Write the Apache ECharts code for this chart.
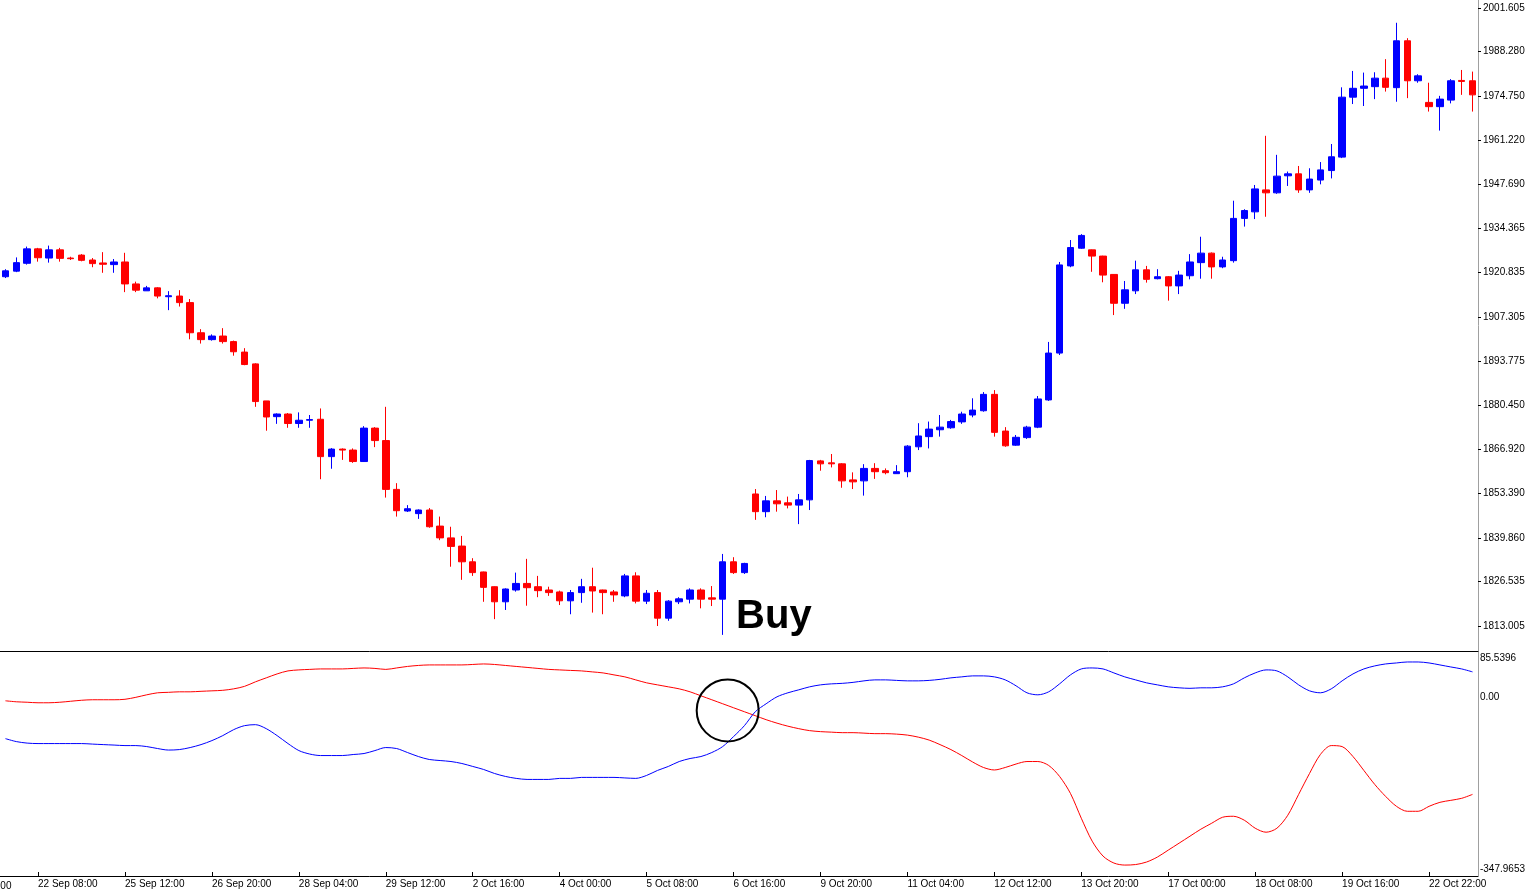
<!DOCTYPE html>
<html>
<head>
<meta charset="utf-8">
<title>XAUUSD H4</title>
<script src="https://cdn.jsdelivr.net/npm/echarts@6/dist/echarts.min.js"></script>
<style>
html, body { margin: 0; padding: 0; background: #fff; }
#chart { width: 1528px; height: 889px; }
</style>
</head>
<body>
<div id="chart"></div>
<script>
// H4 candle times
var times = [
    '21 Sep 20:00', '22 Sep 00:00', '22 Sep 04:00', '22 Sep 08:00', '22 Sep 12:00', '22 Sep 16:00', '22 Sep 20:00',
    '24 Sep 22:00', '25 Sep 00:00', '25 Sep 04:00', '25 Sep 08:00', '25 Sep 12:00', '25 Sep 16:00', '25 Sep 20:00',
    '26 Sep 00:00', '26 Sep 04:00', '26 Sep 08:00', '26 Sep 12:00', '26 Sep 16:00', '26 Sep 20:00',
    '27 Sep 00:00', '27 Sep 04:00', '27 Sep 08:00', '27 Sep 12:00', '27 Sep 16:00', '27 Sep 20:00',
    '28 Sep 00:00', '28 Sep 04:00', '28 Sep 08:00', '28 Sep 12:00', '28 Sep 16:00', '28 Sep 20:00',
    '29 Sep 00:00', '29 Sep 04:00', '29 Sep 08:00', '29 Sep 12:00', '29 Sep 16:00', '29 Sep 20:00',
    '1 Oct 22:00', '2 Oct 00:00', '2 Oct 04:00', '2 Oct 08:00', '2 Oct 12:00', '2 Oct 16:00', '2 Oct 20:00',
    '3 Oct 00:00', '3 Oct 04:00', '3 Oct 08:00', '3 Oct 12:00', '3 Oct 16:00', '3 Oct 20:00',
    '4 Oct 00:00', '4 Oct 04:00', '4 Oct 08:00', '4 Oct 12:00', '4 Oct 16:00', '4 Oct 20:00',
    '5 Oct 00:00', '5 Oct 04:00', '5 Oct 08:00', '5 Oct 12:00', '5 Oct 16:00', '5 Oct 20:00',
    '6 Oct 00:00', '6 Oct 04:00', '6 Oct 08:00', '6 Oct 12:00', '6 Oct 16:00', '6 Oct 20:00',
    '8 Oct 22:00', '9 Oct 00:00', '9 Oct 04:00', '9 Oct 08:00', '9 Oct 12:00', '9 Oct 16:00', '9 Oct 20:00',
    '10 Oct 00:00', '10 Oct 04:00', '10 Oct 08:00', '10 Oct 12:00', '10 Oct 16:00', '10 Oct 20:00',
    '11 Oct 00:00', '11 Oct 04:00', '11 Oct 08:00', '11 Oct 12:00', '11 Oct 16:00', '11 Oct 20:00',
    '12 Oct 00:00', '12 Oct 04:00', '12 Oct 08:00', '12 Oct 12:00', '12 Oct 16:00', '12 Oct 20:00',
    '13 Oct 00:00', '13 Oct 04:00', '13 Oct 08:00', '13 Oct 12:00', '13 Oct 16:00', '13 Oct 20:00',
    '15 Oct 22:00', '16 Oct 00:00', '16 Oct 04:00', '16 Oct 08:00', '16 Oct 12:00', '16 Oct 16:00', '16 Oct 20:00',
    '17 Oct 00:00', '17 Oct 04:00', '17 Oct 08:00', '17 Oct 12:00', '17 Oct 16:00', '17 Oct 20:00',
    '18 Oct 00:00', '18 Oct 04:00', '18 Oct 08:00', '18 Oct 12:00', '18 Oct 16:00', '18 Oct 20:00',
    '19 Oct 00:00', '19 Oct 04:00', '19 Oct 08:00', '19 Oct 12:00', '19 Oct 16:00', '19 Oct 20:00',
    '20 Oct 00:00', '20 Oct 04:00', '20 Oct 08:00', '20 Oct 12:00', '20 Oct 16:00', '20 Oct 20:00',
    '22 Oct 22:00', '23 Oct 00:00', '23 Oct 04:00', '23 Oct 08:00', '23 Oct 12:00'
];

// [open, close, low, high]
var ohlc = [
    [1919.6, 1921.4, 1919.2, 1921.9], [1921.3, 1923.9, 1921.0, 1925.5], [1923.7, 1928.1, 1923.3, 1928.8], [1928.1, 1925.4, 1924.2, 1928.4],
    [1925.3, 1927.8, 1923.9, 1929.1], [1927.8, 1925.2, 1924.2, 1928.4], [1925.3, 1925.1, 1924.7, 1925.7], [1926.2, 1924.6, 1924.3, 1926.5],
    [1924.7, 1923.6, 1922.5, 1925.3], [1923.8, 1923.4, 1920.8, 1927.1], [1923.3, 1924.1, 1920.8, 1925.0], [1924.1, 1917.4, 1914.9, 1926.9],
    [1917.4, 1915.5, 1914.9, 1918.1], [1915.3, 1916.2, 1915.3, 1916.8], [1916.2, 1913.7, 1913.0, 1916.4], [1913.5, 1913.8, 1909.4, 1915.2],
    [1913.7, 1911.7, 1910.5, 1915.5], [1911.7, 1902.5, 1900.5, 1912.8], [1902.5, 1900.4, 1899.2, 1903.6], [1900.4, 1901.5, 1900.1, 1902.0],
    [1901.5, 1899.8, 1899.2, 1903.9], [1899.8, 1896.7, 1895.5, 1900.1], [1896.6, 1892.8, 1892.6, 1897.8], [1893.0, 1881.5, 1879.9, 1893.2],
    [1881.7, 1876.8, 1872.6, 1881.7], [1876.9, 1877.7, 1874.7, 1877.9], [1877.7, 1874.8, 1873.5, 1878.0], [1874.8, 1875.8, 1873.5, 1878.2],
    [1875.8, 1876.0, 1873.5, 1877.4], [1876.1, 1864.7, 1857.8, 1879.4], [1864.7, 1867.0, 1861.0, 1867.3], [1867.0, 1866.7, 1863.7, 1867.2],
    [1866.7, 1863.2, 1862.8, 1867.2], [1863.2, 1873.4, 1863.1, 1874.0], [1873.4, 1869.6, 1867.6, 1873.7], [1869.6, 1854.7, 1852.2, 1879.9],
    [1854.7, 1848.2, 1846.4, 1856.6], [1848.1, 1848.8, 1847.8, 1849.9], [1847.3, 1848.4, 1845.7, 1848.6], [1848.4, 1843.3, 1843.0, 1849.0],
    [1843.5, 1839.9, 1839.2, 1846.4], [1839.9, 1837.3, 1831.1, 1843.3], [1837.4, 1832.6, 1827.1, 1840.5], [1832.6, 1829.3, 1828.3, 1833.7],
    [1829.5, 1824.8, 1820.4, 1829.6], [1825.0, 1820.4, 1815.1, 1825.1], [1820.4, 1824.3, 1817.9, 1824.5], [1824.0, 1826.0, 1823.5, 1829.3],
    [1826.0, 1824.7, 1819.2, 1833.5], [1825.0, 1823.8, 1821.8, 1828.3], [1824.0, 1823.2, 1822.2, 1825.0], [1823.4, 1820.7, 1819.4, 1823.8],
    [1820.7, 1823.2, 1816.6, 1824.0], [1823.2, 1825.0, 1820.1, 1827.4], [1825.0, 1823.7, 1817.1, 1830.8], [1824.0, 1823.2, 1816.6, 1824.1],
    [1823.4, 1822.5, 1820.4, 1824.0], [1822.2, 1828.3, 1821.8, 1828.9], [1828.3, 1820.6, 1819.9, 1829.4], [1820.6, 1823.0, 1819.7, 1824.0],
    [1823.2, 1815.4, 1813.0, 1824.0], [1815.4, 1820.6, 1814.6, 1820.9], [1820.4, 1821.3, 1819.7, 1821.8], [1821.2, 1824.0, 1819.9, 1824.5],
    [1824.0, 1821.2, 1818.4, 1824.5], [1821.6, 1821.2, 1819.1, 1825.2], [1821.2, 1832.6, 1810.3, 1835.0], [1832.6, 1829.3, 1828.9, 1834.0],
    [1829.3, 1832.1, 1828.9, 1832.3], [1853.3, 1847.9, 1845.4, 1854.8], [1847.9, 1851.2, 1846.2, 1852.7], [1851.2, 1850.3, 1847.9, 1854.5],
    [1850.6, 1849.9, 1848.9, 1852.5], [1849.9, 1851.5, 1844.1, 1853.3], [1851.5, 1863.5, 1848.4, 1863.7], [1863.4, 1862.5, 1860.4, 1863.7],
    [1862.8, 1862.5, 1861.4, 1865.5], [1862.5, 1857.3, 1855.2, 1862.7], [1857.6, 1857.0, 1854.8, 1859.9], [1857.3, 1861.1, 1852.8, 1862.4],
    [1861.1, 1860.1, 1857.9, 1862.7], [1860.4, 1859.8, 1859.3, 1861.1], [1859.5, 1860.1, 1859.4, 1862.1], [1860.1, 1867.9, 1858.4, 1868.2],
    [1867.7, 1871.0, 1866.7, 1874.9], [1870.8, 1873.1, 1867.2, 1875.4], [1872.9, 1873.7, 1870.8, 1877.4], [1873.5, 1875.4, 1873.2, 1875.9],
    [1875.3, 1877.7, 1874.7, 1878.4], [1877.4, 1878.9, 1876.7, 1882.5], [1878.7, 1883.7, 1878.4, 1884.4], [1883.7, 1872.1, 1870.8, 1885.0],
    [1872.5, 1868.0, 1867.7, 1873.7], [1868.2, 1870.6, 1868.0, 1871.3], [1870.5, 1873.7, 1870.1, 1874.1], [1873.7, 1882.3, 1873.4, 1883.2],
    [1882.0, 1896.3, 1881.7, 1899.7], [1896.3, 1923.2, 1895.7, 1924.1], [1922.9, 1928.5, 1922.5, 1930.8], [1928.3, 1932.2, 1928.1, 1932.6],
    [1927.8, 1925.9, 1921.1, 1927.9], [1925.9, 1920.1, 1917.9, 1926.0], [1920.3, 1911.5, 1907.9, 1920.4], [1911.5, 1915.6, 1909.8, 1918.3],
    [1915.3, 1921.7, 1914.3, 1924.5], [1921.7, 1918.8, 1917.8, 1922.9], [1919.0, 1919.6, 1918.8, 1921.9], [1919.6, 1916.8, 1912.3, 1919.8],
    [1916.8, 1920.1, 1914.3, 1921.4], [1919.9, 1924.1, 1918.8, 1926.5], [1923.9, 1926.8, 1919.0, 1931.8], [1926.8, 1922.6, 1919.0, 1927.0],
    [1922.6, 1924.7, 1922.2, 1925.7], [1924.5, 1937.4, 1923.9, 1942.8], [1937.4, 1939.8, 1934.9, 1940.2], [1939.4, 1946.4, 1937.2, 1947.6],
    [1946.1, 1945.2, 1937.9, 1962.6], [1945.2, 1950.3, 1944.9, 1956.8], [1950.4, 1951.0, 1947.3, 1951.7], [1951.0, 1946.1, 1945.2, 1953.4],
    [1946.1, 1949.4, 1945.2, 1952.7], [1949.1, 1952.2, 1947.8, 1954.6], [1952.0, 1956.2, 1949.6, 1960.1], [1956.1, 1974.4, 1955.8, 1977.4],
    [1974.4, 1977.1, 1972.3, 1982.4], [1977.1, 1977.8, 1971.7, 1981.9], [1977.6, 1980.2, 1973.8, 1982.0], [1980.2, 1977.4, 1976.1, 1986.0],
    [1977.3, 1991.6, 1973.0, 1997.1], [1991.6, 1979.4, 1974.1, 1992.4], [1979.4, 1980.9, 1978.8, 1981.4], [1972.8, 1971.5, 1970.0, 1978.8],
    [1971.5, 1973.8, 1964.2, 1974.8], [1973.5, 1979.4, 1972.5, 1979.9], [1979.5, 1979.2, 1975.1, 1982.7], [1979.4, 1975.1, 1970.0, 1982.2]
];

// oscillator lines in the lower window
var redLine = [
    -10.4, -12.3, -13.2, -14.2, -14.2, -13.2, -11.3, -9.4, -8.4, -8.4, -8.4, -7.5, -3.7, 1.1, 5.0, 5.9,
    6.9, 6.9, 7.9, 8.8, 9.8, 12.6, 17.4, 26.1, 33.8, 41.4, 47.2, 49.1, 50.1, 51.0, 51.0, 51.0,
    52.0, 52.9, 52.0, 50.1, 52.9, 55.8, 57.7, 58.7, 58.7, 58.7, 58.7, 59.6, 60.6, 59.6, 57.7, 55.8,
    53.9, 52.0, 50.1, 49.1, 48.1, 47.2, 45.3, 43.3, 39.5, 35.7, 29.9, 24.2, 20.3, 16.5, 12.6, 6.9,
    -0.8, -8.4, -16.1, -23.8, -31.5, -39.1, -46.8, -53.5, -59.3, -64.1, -67.9, -69.8, -70.8, -71.8, -71.8, -72.7,
    -73.7, -73.7, -74.6, -76.5, -80.4, -86.1, -94.8, -104.4, -115.9, -128.3, -138.9, -143.7, -138.9, -132.2, -127.4, -127.4,
    -135.0, -156.1, -188.8, -236.7, -280.8, -309.6, -323.0, -326.9, -325.9, -321.1, -311.5, -298.1, -284.7, -271.2, -257.8, -246.3,
    -234.8, -232.9, -240.5, -255.9, -263.6, -255.9, -230.9, -190.7, -150.4, -113.9, -96.7, -98.6, -117.8, -144.6, -171.5, -194.5,
    -213.7, -223.3, -223.3, -213.7, -206.0, -202.2, -198.3, -190.7
];
var blueLine = [
    -83.3, -89.0, -91.9, -92.8, -92.8, -92.8, -92.8, -92.8, -93.8, -94.8, -95.7, -96.7, -96.7, -98.6, -102.4, -105.3,
    -104.4, -100.5, -94.8, -87.1, -77.5, -66.0, -58.3, -56.4, -64.1, -77.5, -92.8, -106.3, -113.0, -115.9, -115.9, -115.9,
    -113.9, -112.0, -106.3, -100.5, -102.4, -110.1, -117.8, -123.5, -125.5, -127.4, -131.2, -136.9, -142.7, -150.4, -156.1, -159.9,
    -161.9, -161.9, -161.9, -159.9, -159.9, -158.0, -158.0, -158.0, -158.0, -159.0, -159.9, -154.2, -144.6, -136.9, -127.4, -121.6,
    -117.8, -110.1, -98.6, -79.4, -58.3, -31.5, -16.1, -2.7, 5.0, 10.7, 16.5, 20.3, 22.2, 23.2, 25.1, 28.0,
    29.9, 29.9, 28.9, 28.0, 28.0, 28.9, 30.9, 33.8, 35.7, 37.6, 37.6, 35.7, 29.9, 18.4, 5.0, 1.1,
    6.9, 22.2, 39.5, 51.0, 52.9, 51.0, 43.3, 35.7, 29.9, 24.2, 20.3, 16.5, 14.6, 13.6, 14.6, 14.6,
    16.5, 22.2, 33.8, 43.3, 49.1, 47.2, 35.7, 20.3, 8.8, 5.0, 12.6, 28.0, 41.4, 51.0, 56.8, 60.6,
    62.5, 64.4, 64.4, 62.5, 58.7, 54.8, 51.0, 45.3
];

var priceTicks = [2001.605, 1988.280, 1974.750, 1961.220, 1947.690, 1934.365, 1920.835, 1907.305,
    1893.775, 1880.450, 1866.920, 1853.390, 1839.860, 1826.535, 1813.005];
var oscTicks = [85.5396, 0, -347.9653];

var FONT = 'Liberation Sans';

var myChart = echarts.init(document.getElementById('chart'));

function showEvery8(idx) {
    return idx % 8 === 3;
}

var option = {
    animation: false,
    backgroundColor: '#ffffff',
    grid: [
        { left: 0, right: 50, top: 0, height: 651 },
        { left: 0, right: 50, top: 651, height: 227 }
    ],
    xAxis: [
        {
            type: 'category', gridIndex: 0, data: times,
            axisLine: { onZero: false, lineStyle: { color: '#000', width: 1 } },
            axisTick: { show: false }, axisLabel: { show: false }
        },
        {
            type: 'category', gridIndex: 1, data: times, position: 'bottom',
            axisLine: { onZero: false, lineStyle: { color: '#000', width: 1 } },
            axisTick: { show: true, inside: true, length: 4, alignWithLabel: true, interval: showEvery8, lineStyle: { color: '#000' } },
            axisLabel: {
                interval: showEvery8, align: 'left', margin: 3,
                fontFamily: FONT, fontSize: 10, color: '#000'
            }
        }
    ],
    yAxis: [
        {
            type: 'value', gridIndex: 0, position: 'right',
            min: 1805.38, max: 2004.05,
            splitLine: { show: false },
            axisLine: { show: true, lineStyle: { color: '#a0a0a0' } },
            axisTick: { show: true, length: 3, customValues: priceTicks, lineStyle: { color: '#000' } },
            axisLabel: {
                customValues: priceTicks, margin: 5,
                fontFamily: FONT, fontSize: 10, color: '#000',
                formatter: function (v) { return v.toFixed(3); }
            }
        },
        {
            type: 'value', gridIndex: 1, position: 'right',
            min: -347.9653, max: 85.5396,
            splitLine: { show: false },
            axisLine: { show: true, lineStyle: { color: '#a0a0a0' } },
            axisTick: { show: false, customValues: oscTicks },
            axisLabel: {
                customValues: oscTicks, margin: 2,
                fontFamily: FONT, fontSize: 10, color: '#000',
                formatter: function (v) {
                    if (v > 0) return '{t|' + v.toFixed(4) + '}';
                    if (v < 0) return '{b|' + v.toFixed(4) + '}';
                    return '{m|0.00}';
                },
                rich: {
                    t: { padding: [14, 0, 0, 0], fontFamily: FONT, fontSize: 10, color: '#000' },
                    m: { padding: [4, 0, 0, 0], fontFamily: FONT, fontSize: 10, color: '#000' },
                    b: { padding: [0, 0, 14, 0], fontFamily: FONT, fontSize: 10, color: '#000' }
                }
            }
        }
    ],
    graphic: [
        { type: 'text', x: -48, y: 881, style: { text: '21 Sep 00:00', font: '10px "Liberation Sans"', fill: '#000' } }
    ],
    series: [
        {
            type: 'candlestick',
            xAxisIndex: 0, yAxisIndex: 0,
            data: ohlc,
            barWidth: 7,
            itemStyle: {
                color: '#0000ff', color0: '#ff0000',
                borderColor: '#0000ff', borderColor0: '#ff0000',
                borderWidth: 1
            },
            markPoint: {
                silent: true,
                data: [{
                    coord: [times[67], 1815.9],
                    symbol: 'circle', symbolSize: 1,
                    itemStyle: { color: 'rgba(0,0,0,0)' },
                    label: {
                        show: true, position: 'right', distance: 2,
                        formatter: 'Buy', fontFamily: FONT, fontSize: 40, fontWeight: 'bold', color: '#000'
                    }
                }]
            }
        },
        {
            type: 'line',
            xAxisIndex: 1, yAxisIndex: 1,
            data: redLine,
            showSymbol: false, smooth: 0.3,
            lineStyle: { color: '#ff0000', width: 1 },
            markPoint: {
                silent: true,
                data: [{
                    coord: [times[66], -29],
                    symbol: 'circle', symbolSize: 62, symbolOffset: [5, 0],
                    itemStyle: { color: 'rgba(0,0,0,0)', borderColor: '#000', borderWidth: 2 },
                    label: { show: false }
                }]
            }
        },
        {
            type: 'line',
            xAxisIndex: 1, yAxisIndex: 1,
            data: blueLine,
            showSymbol: false, smooth: 0.3,
            lineStyle: { color: '#0000ff', width: 1 }
        }
    ]
};

myChart.setOption(option);
window.onresize = function () {
    myChart.resize();
};
</script>
</body>
</html>
